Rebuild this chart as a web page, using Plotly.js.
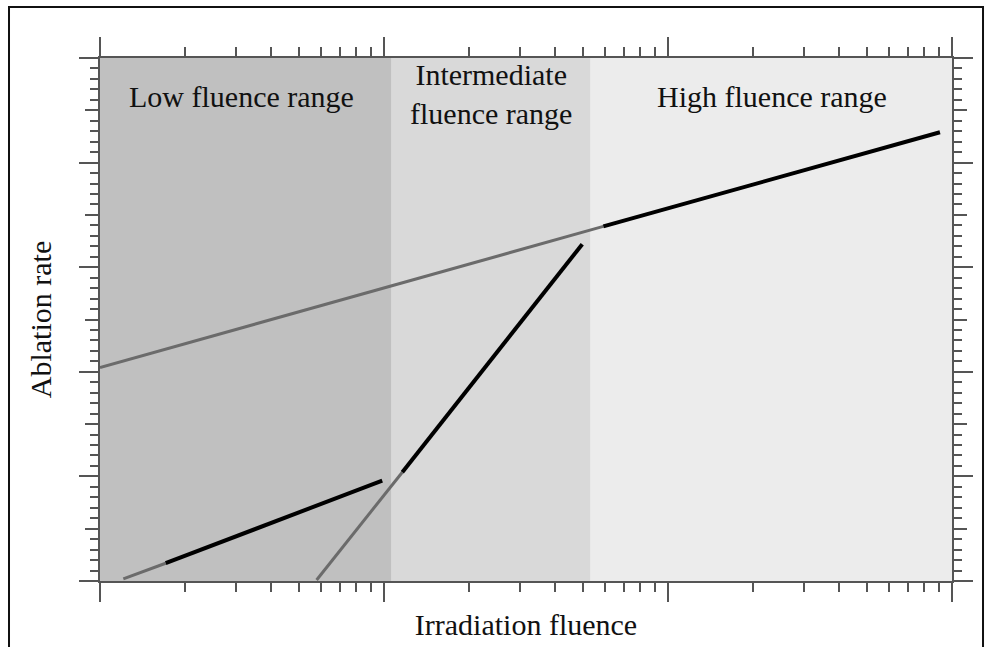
<!DOCTYPE html>
<html>
<head>
<meta charset="utf-8">
<script src="https://cdn.plot.ly/plotly-3.0.1.min.js"></script>
<style>html,body{margin:0;padding:0;background:#fff;}#chart{width:990px;height:647px;}</style>
</head>
<body>
<div id="chart"></div>
<script>
// ---- data ----
const regionNames = ['Low fluence range', 'Intermediate<br>fluence range', 'High fluence range'];
const regionEdges = [1, 10.64, 53.4, 1000];

const highGrayX = [1, 59.2];      const highGrayY = [2.04, 3.39];
const highBlackX = [59.2, 907];   const highBlackY = [3.39, 4.29];
const lowGrayX = [1.208, 1.703];  const lowGrayY = [0.02, 0.17];
const lowBlackX = [1.703, 9.86];  const lowBlackY = [0.17, 0.96];
const midGrayX = [5.79, 11.6];    const midGrayY = [0.01, 1.04];
const midBlackX = [11.6, 49.9];   const midBlackY = [1.04, 3.22];

const xMajorTicks = [1, 10, 100, 1000];
const xMinorTicks = [2, 3, 4, 5, 6, 7, 8, 9, 20, 30, 40, 50, 60, 70, 80, 90, 200, 300, 400, 500, 600, 700, 800, 900];

const xTitle = 'Irradiation fluence';
const yTitle = 'Ablation rate';

// ---- styles ----
const regionFill = ['#c0c0c0', '#d9d9d9', '#ececec'];
const labelPos = [[0.166, 0.926], [0.4595, 0.931], [0.789, 0.926]];
const serif = '"Liberation Serif", "Times New Roman", serif';
const grayLine = {color: '#6b6b6b', width: 3};
const blackLine = {color: '#000000', width: 4};
const axCol = '#555555';

function seg(x, y, line) {
  return {type: 'scatter', mode: 'lines', x: x, y: y, line: line, hoverinfo: 'skip', showlegend: false};
}

const traces = [
  seg(highGrayX, highGrayY, grayLine),
  seg(highBlackX, highBlackY, blackLine),
  seg(lowGrayX, lowGrayY, grayLine),
  seg(lowBlackX, lowBlackY, blackLine),
  seg(midGrayX, midGrayY, grayLine),
  seg(midBlackX, midBlackY, blackLine),
  {type: 'scatter', x: [], y: [], yaxis: 'y2', showlegend: false, hoverinfo: 'skip'},
  {type: 'scatter', x: [], y: [], yaxis: 'y3', showlegend: false, hoverinfo: 'skip'},
  {type: 'scatter', x: [], y: [], xaxis: 'x2', showlegend: false, hoverinfo: 'skip'}
];

const shapes = [];
for (let i = 0; i < regionNames.length; i++) {
  shapes.push({type: 'rect', xref: 'x', yref: 'paper', x0: regionEdges[i], x1: regionEdges[i + 1],
    y0: 0, y1: 1, fillcolor: regionFill[i], line: {width: 0}, layer: 'below'});
}
// outer frame of the figure
shapes.push({type: 'rect', xref: 'paper', yref: 'paper', x0: -0.1068, x1: 1.0364, y0: -0.2, y1: 1.0975,
  line: {color: '#111', width: 2}, fillcolor: 'rgba(0,0,0,0)', layer: 'above'});

const annotations = regionNames.map((t, i) => ({
  text: t, xref: 'paper', yref: 'paper', x: labelPos[i][0], y: labelPos[i][1],
  xanchor: 'center', yanchor: 'middle', showarrow: false,
  font: {family: serif, size: 30, color: '#111'}
}));

function tickAxis(extra) {
  return Object.assign({
    showticklabels: false, showgrid: false, zeroline: false, showline: false,
    mirror: 'ticks', ticks: 'outside', tickwidth: 2, tickcolor: axCol
  }, extra);
}

const layout = {
  width: 990, height: 647,
  margin: {l: 100, r: 38, t: 58, b: 66},
  paper_bgcolor: '#ffffff', plot_bgcolor: '#ffffff',
  showlegend: false,
  font: {family: serif, color: '#111'},
  xaxis: tickAxis({
    type: 'log', range: [0, 3], tickmode: 'array', tickvals: xMajorTicks, ticklen: 19,
    showline: true, linecolor: axCol, linewidth: 2,
    title: {text: xTitle, font: {family: serif, size: 30, color: '#111'}, standoff: 13}
  }),
  xaxis2: tickAxis({
    type: 'log', range: [0, 3], overlaying: 'x', anchor: 'y', side: 'bottom',
    tickmode: 'array', tickvals: xMinorTicks, ticklen: 10
  }),
  yaxis: tickAxis({
    range: [0, 5], tickmode: 'linear', tick0: 0, dtick: 1, ticklen: 19,
    showline: true, linecolor: axCol, linewidth: 2,
    title: {text: yTitle, font: {family: serif, size: 30, color: '#111'}, standoff: 19}
  }),
  yaxis2: tickAxis({
    overlaying: 'y', anchor: 'x', side: 'left', range: [0, 5],
    tickmode: 'linear', tick0: 0, dtick: 0.5, ticklen: 14
  }),
  yaxis3: tickAxis({
    overlaying: 'y', anchor: 'x', side: 'left', range: [0, 5],
    tickmode: 'linear', tick0: 0, dtick: 0.1, ticklen: 9
  }),
  shapes: shapes,
  annotations: annotations
};

Plotly.newPlot('chart', traces, layout, {displayModeBar: false, staticPlot: true});
</script>
</body>
</html>
